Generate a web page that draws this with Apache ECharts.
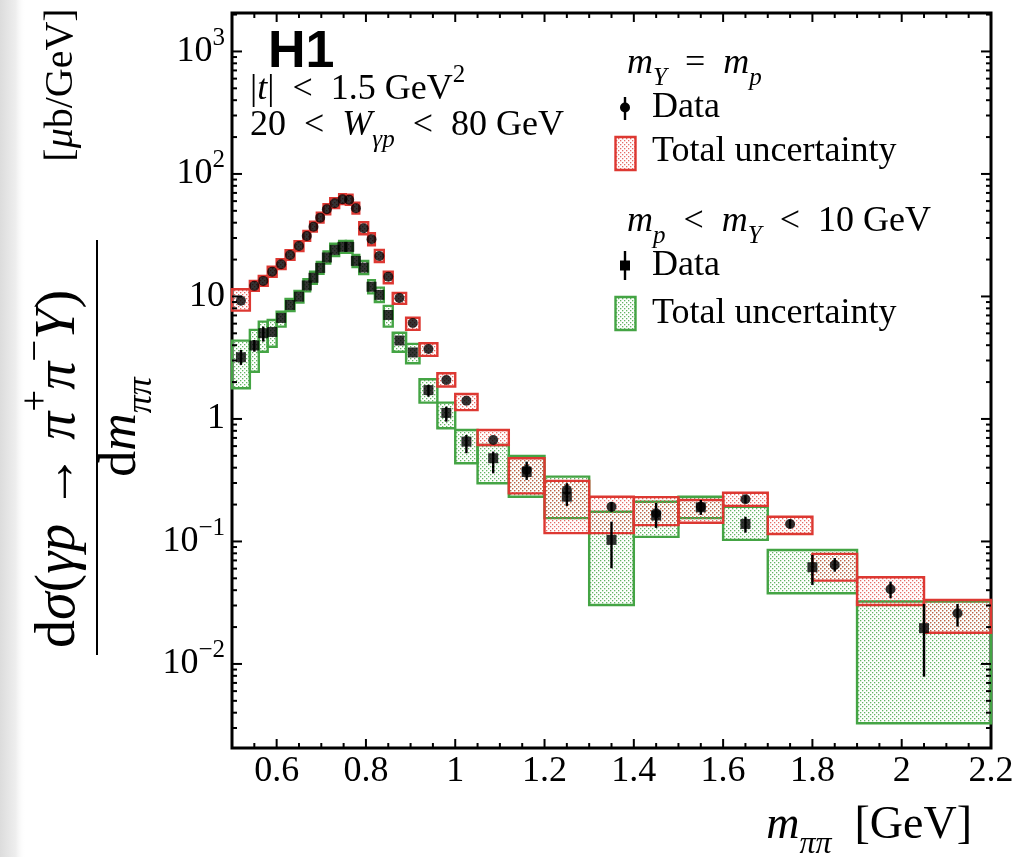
<!DOCTYPE html>
<html>
<head>
<meta charset="utf-8">
<script src="https://cdn.jsdelivr.net/npm/echarts@6/dist/echarts.min.js"></script>
<style>
  html, body { margin: 0; padding: 0; background: #fff; }
  #chart { width: 1019px; height: 857px; }
</style>
</head>
<body>
<div id="chart"></div>
<script>
// ---- m_pipi binning [GeV] ----
const sharedEdges = [0.50, 0.54, 0.56, 0.58, 0.60, 0.62, 0.64, 0.66, 0.675, 0.69, 0.705, 0.72, 0.74,
  0.755, 0.77, 0.785, 0.805, 0.82, 0.84, 0.86, 0.89, 0.92, 0.96, 1.00, 1.05, 1.12, 1.20, 1.30,
  1.40, 1.50, 1.60, 1.70];
const elasticTailEdges = [1.80, 1.90, 2.05, 2.20];
const pdissTailEdges = [1.90, 2.20];

// ---- m_Y = m_p : dsigma/dm [ub/GeV] ----
const elasticXsec = [9.24, 12.2, 13.4, 15.9, 18.3, 21.8, 25.8, 31.2, 37.1, 44.0, 51.5, 57.7, 62.2,
  61.5, 52.5, 36.0, 29.3, 21.4, 14.5, 9.72, 6.08, 3.73, 2.08, 1.41, 0.674, 0.383, 0.263, 0.192,
  0.170, 0.192, 0.221, 0.139, 0.0643, 0.0407, 0.0259];
const elasticTotLo = [7.66, 11.1, 12.2, 14.5, 16.7, 19.9, 23.5, 28.4, 33.8, 40.1, 46.9, 52.6, 56.7,
  56.0, 47.4, 32.2, 26.2, 19.1, 12.8, 8.69, 5.33, 3.27, 1.84, 1.18, 0.613, 0.247, 0.117, 0.117,
  0.136, 0.142, 0.195, 0.115, 0.0479, 0.0303, 0.0180];
const elasticTotHi = [11.45, 13.4, 14.7, 17.5, 20.1, 23.9, 28.3, 34.3, 40.8, 48.3, 56.6, 63.4, 68.3,
  67.6, 58.2, 40.3, 32.8, 24.0, 15.9, 10.7, 6.71, 4.15, 2.36, 1.60, 0.813, 0.478, 0.312, 0.232,
  0.230, 0.218, 0.250, 0.159, 0.0791, 0.0510, 0.0333];
// statistical errors (null: smaller than the marker)
const elasticStatLo = [null, null, null, null, null, null, null, null, null, null, null, null, null,
  null, null, null, null, null, null, null, null, null, null, null, null, null, 0.245, 0.175,
  0.157, 0.180, 0.205, 0.128, 0.0567, 0.0344, 0.0202];
const elasticStatHi = [null, null, null, null, null, null, null, null, null, null, null, null, null,
  null, null, null, null, null, null, null, null, null, null, null, null, null, 0.282, 0.210,
  0.184, 0.205, 0.238, 0.151, 0.0733, 0.0470, 0.0309];

// ---- m_p < m_Y < 10 GeV : dsigma/dm [ub/GeV] ----
const pdissXsec = [3.19, 3.98, 5.01, 5.13, 6.68, 8.52, 9.96, 12.3, 14.2, 17.1, 20.8, 24.0, 25.4,
  25.4, 19.5, 17.2, 12.0, 10.3, 7.06, 4.37, 3.49, 1.72, 1.12, 0.653, 0.478, 0.369, 0.232, 0.103,
  0.163, 0.190, 0.139, 0.0616, 0.0196];
const pdissTotLo = [1.78, 2.43, 3.54, 3.89, 5.67, 7.61, 8.90, 11.0, 12.7, 15.3, 18.6, 21.4, 22.7,
  22.7, 17.4, 15.2, 10.6, 9.0, 5.67, 3.54, 2.85, 1.36, 0.840, 0.435, 0.299, 0.232, 0.155, 0.0303,
  0.109, 0.155, 0.103, 0.0378, 0.00328];
const pdissTotHi = [4.36, 5.33, 6.23, 6.43, 7.51, 9.53, 11.1, 13.8, 15.9, 19.1, 23.3, 26.9, 28.4,
  28.4, 21.8, 19.5, 13.6, 11.8, 8.37, 5.06, 4.10, 2.11, 1.36, 0.813, 0.613, 0.499, 0.338, 0.175,
  0.211, 0.232, 0.192, 0.0852, 0.0323];
const pdissStatLo = [2.76, 3.54, 4.28, null, null, null, null, null, null, null, null, null, null,
  null, null, null, null, null, null, null, null, 1.52, 0.95, 0.525, 0.360, 0.318, 0.195, 0.0604,
  0.129, 0.165, 0.118, 0.0441, 0.00787];
const pdissStatHi = [3.66, 4.41, 5.67, null, null, null, null, null, null, null, null, null, null,
  null, null, null, null, null, null, null, null, 1.90, 1.26, 0.740, 0.541, 0.448, 0.299, 0.145,
  0.206, 0.218, 0.159, 0.0776, 0.0309];

// ---- axes ----
const xRange = [0.5, 2.2];
const yRange = [0.00206, 2060];
const xTickLabels = [0.6, 0.8, 1.0, 1.2, 1.4, 1.6, 1.8, 2.0, 2.2];
const yDecades = [-2, -1, 0, 1, 2, 3];

const SERIF = '"Liberation Serif", "DejaVu Serif", serif';
const SANS = '"Liberation Sans", Arial, sans-serif';
const RED = '#dd3832';
const GREEN = '#44a444';

function dotPattern(color) {
  const c = document.createElement('canvas');
  c.width = 4; c.height = 4;
  const g = c.getContext('2d');
  g.fillStyle = color;
  g.fillRect(0, 0, 1.3, 1.3);
  g.fillRect(2, 2, 1.3, 1.3);
  return { image: c, repeat: 'repeat' };
}
const redFill = dotPattern('rgba(222,70,64,0.8)');
const greenFill = dotPattern('rgba(60,160,60,0.8)');

function boxes(edges, lo, hi) {
  return lo.map((l, i) => [edges[i], edges[i + 1], l, hi[i]]);
}
function points(edges, vals) {
  return vals.map((v, i) => [(edges[i] + edges[i + 1]) / 2, v]);
}
function bars(edges, lo, hi) {
  const out = [];
  lo.forEach((l, i) => { if (l != null) out.push([(edges[i] + edges[i + 1]) / 2, l, hi[i]]); });
  return out;
}

const elasticEdges = sharedEdges.concat(elasticTailEdges);
const pdissEdges = sharedEdges.concat(pdissTailEdges);

// tick marks on all four sides of the frame (log minor ticks at 2..9 per decade)
const tickData = [];
for (let k = 11; k < 44; k++) {
  const v = k * 5 / 100;
  const major = xTickLabels.some(t => Math.abs(t - v) < 1e-9);
  tickData.push([v, 1, major ? 1 : 0]);
}
for (let d = -3; d <= 3; d++) {
  for (let m = 1; m <= 9; m++) {
    const v = m * Math.pow(10, d);
    if (v <= yRange[0] || v >= yRange[1]) continue;
    tickData.push([xRange[0], v, m === 1 ? 3 : 2]);
  }
}

function boxRenderer(stroke, fill) {
  return function (params, api) {
    const a = api.coord([api.value(0), api.value(3)]);
    const b = api.coord([api.value(1), api.value(2)]);
    return {
      type: 'rect',
      shape: { x: a[0], y: a[1], width: b[0] - a[0], height: b[1] - a[1] },
      style: { fill: fill, stroke: stroke, lineWidth: 2.4 }
    };
  };
}
function barRenderer(params, api) {
  const a = api.coord([api.value(0), api.value(1)]);
  const b = api.coord([api.value(0), api.value(2)]);
  return {
    type: 'line',
    shape: { x1: a[0], y1: a[1], x2: b[0], y2: b[1] },
    style: { stroke: '#000', lineWidth: 2.4 }
  };
}
function tickRenderer(params, api) {
  const cs = params.coordSys;
  const kind = api.value(2);
  const p = api.coord([api.value(0), api.value(1)]);
  const st = { stroke: '#000', lineWidth: 2 };
  if (kind < 2) {
    const len = kind === 1 ? 9 : 5;
    const yb = cs.y + cs.height, yt = cs.y;
    return { type: 'group', children: [
      { type: 'line', shape: { x1: p[0], y1: yb, x2: p[0], y2: yb - len }, style: st },
      { type: 'line', shape: { x1: p[0], y1: yt, x2: p[0], y2: yt + len }, style: st }
    ] };
  }
  const len = kind === 3 ? 10 : 5;
  const xl = cs.x, xr = cs.x + cs.width;
  return { type: 'group', children: [
    { type: 'line', shape: { x1: xl, y1: p[1], x2: xl + len, y2: p[1] }, style: st },
    { type: 'line', shape: { x1: xr, y1: p[1], x2: xr - len, y2: p[1] }, style: st }
  ] };
}

// rich-text styles for TeX-like math (graphic text uses fill)
function mathRich(size) {
  const lh = Math.round(size * 1.5);
  const small = Math.round(size * 0.7);
  const slh = Math.round(size * 0.95);
  return {
    r: { fontFamily: SERIF, fontSize: size, lineHeight: lh, fill: '#000' },
    i: { fontFamily: SERIF, fontSize: size, lineHeight: lh, fontStyle: 'italic', fill: '#000' },
    sub: { fontFamily: SERIF, fontSize: small, lineHeight: slh, fontStyle: 'italic', verticalAlign: 'bottom', fill: '#000' },
    sup: { fontFamily: SERIF, fontSize: small, lineHeight: slh, verticalAlign: 'top', fill: '#000' }
  };
}
function mtext(x, y, text, size, align, extra) {
  return Object.assign({
    type: 'text', x: x, y: y, silent: true,
    style: {
      text: text, rich: mathRich(size), fontFamily: SERIF, fontSize: size, fill: '#000',
      align: align || 'left', textAlign: align || 'left',
      verticalAlign: 'middle', textVerticalAlign: 'middle'
    }
  }, extra || {});
}

const LEG = 36;
const graphics = [
  // soft grey edge along the left side of the page
  { type: 'rect', silent: true, z: -10, shape: { x: 0, y: 0, width: 26, height: 857 },
    style: { fill: new echarts.graphic.LinearGradient(0, 0, 1, 0, [
      { offset: 0, color: '#dcdcdc' }, { offset: 0.6, color: '#eeeeee' }, { offset: 1, color: 'rgba(255,255,255,0)' }]) } },

  // experiment tag and selection
  { type: 'text', x: 268, y: 53, silent: true,
    style: { text: 'H1', fontFamily: SANS, fontWeight: 'bold', fontSize: 52, fill: '#000',
      align: 'left', textAlign: 'left', verticalAlign: 'middle', textVerticalAlign: 'middle' } },
  mtext(250, 90, '{r||}{i|t}{r||  <  1.5 GeV}{sup|2}', LEG),
  mtext(250, 126, '{r|20  <  }{i|W}{sub|γp}{r|  <  80 GeV}', LEG),

  // legend: m_Y = m_p
  mtext(627, 64, '{i|m}{sub|Y}{r|  =  }{i|m}{sub|p}', LEG),
  { type: 'line', silent: true, shape: { x1: 625, y1: 97, x2: 625, y2: 120 }, style: { stroke: '#000', lineWidth: 2.4 } },
  { type: 'circle', silent: true, shape: { cx: 625, cy: 107.5, r: 5 }, style: { fill: '#000' } },
  mtext(652, 108, '{r|Data}', LEG),
  { type: 'rect', silent: true, shape: { x: 615.5, y: 137, width: 20, height: 33 }, style: { fill: redFill, stroke: RED, lineWidth: 2.4 } },
  mtext(652, 152, '{r|Total uncertainty}', LEG),

  // legend: m_p < m_Y < 10 GeV
  mtext(627, 222, '{i|m}{sub|p}{r|  <  }{i|m}{sub|Y}{r|  <  10 GeV}', LEG),
  { type: 'line', silent: true, shape: { x1: 625, y1: 251, x2: 625, y2: 280 }, style: { stroke: '#000', lineWidth: 2.4 } },
  { type: 'rect', silent: true, shape: { x: 620, y: 260.5, width: 10, height: 10 }, style: { fill: '#000' } },
  mtext(652, 266, '{r|Data}', LEG),
  { type: 'rect', silent: true, shape: { x: 615.5, y: 297, width: 20, height: 33 }, style: { fill: greenFill, stroke: GREEN, lineWidth: 2.4 } },
  mtext(652, 314, '{r|Total uncertainty}', LEG),

  // x-axis title
  mtext(972, 826, '{i|m}{sub|ππ}{r|  [GeV]}', 46, 'right'),

  // y-axis title: rotated fraction
  { type: 'group', x: 97, y: 447, rotation: Math.PI / 2, silent: true, children: [
    { type: 'line', shape: { x1: -208, y1: 0, x2: 207, y2: 0 }, style: { stroke: '#000', lineWidth: 2 } },
    mtext(-22, -38, '{r|d}{i|σ}{r|(}{i|γp}{r| → }{i|π}{sup|+}{i|π}{sup|−}{i|Y}{r|)}', 56, 'center'),
    mtext(20, 24, '{r|d}{i|m}{sub|ππ}', 52, 'center'),
    mtext(362, -36, '{r|[}{i|μ}{r|b/GeV]}', 40, 'center')
  ] }
];

const option = {
  backgroundColor: '#fff',
  animation: false,
  grid: { left: 232, right: 28, top: 13, bottom: 109, show: true, borderColor: '#000', borderWidth: 3, backgroundColor: 'transparent' },
  xAxis: {
    type: 'value', min: xRange[0], max: xRange[1], interval: 0.1,
    axisLine: { show: false }, axisTick: { show: false }, splitLine: { show: false },
    axisLabel: {
      margin: 6, color: '#000', fontFamily: SERIF, fontSize: 36,
      formatter: function (v) {
        const hit = xTickLabels.some(t => Math.abs(t - v) < 1e-6);
        return hit ? String(Math.round(v * 10) / 10) : '';
      }
    }
  },
  yAxis: {
    type: 'log', logBase: 10, min: yRange[0], max: yRange[1],
    axisLine: { show: false }, axisTick: { show: false }, splitLine: { show: false },
    axisLabel: {
      margin: 7, color: '#000',
      formatter: function (v) {
        const l = Math.log10(v);
        const k = Math.round(l);
        if (Math.abs(l - k) > 1e-6 || yDecades.indexOf(k) < 0) return '';
        if (k === 0) return '{b|1}';
        if (k === 1) return '{b|10}';
        return '{b|10}{sup|' + (k < 0 ? '−' + (-k) : k) + '}';
      },
      rich: {
        b: { fontFamily: SERIF, fontSize: 36, lineHeight: 52, color: '#000' },
        sup: { fontFamily: SERIF, fontSize: 25, lineHeight: 26, verticalAlign: 'top', color: '#000' }
      }
    }
  },
  series: [
    { type: 'custom', name: 'pdiss total', renderItem: boxRenderer(GREEN, greenFill),
      data: boxes(pdissEdges, pdissTotLo, pdissTotHi), encode: { x: [0, 1], y: [2, 3] }, silent: true, z: 2 },
    { type: 'custom', name: 'elastic total', renderItem: boxRenderer(RED, redFill),
      data: boxes(elasticEdges, elasticTotLo, elasticTotHi), encode: { x: [0, 1], y: [2, 3] }, silent: true, z: 3 },
    { type: 'custom', name: 'pdiss stat', renderItem: barRenderer,
      data: bars(pdissEdges, pdissStatLo, pdissStatHi), encode: { x: 0, y: [1, 2] }, silent: true, z: 4 },
    { type: 'custom', name: 'elastic stat', renderItem: barRenderer,
      data: bars(elasticEdges, elasticStatLo, elasticStatHi), encode: { x: 0, y: [1, 2] }, silent: true, z: 4 },
    { type: 'scatter', name: 'pdiss data', data: points(pdissEdges, pdissXsec),
      symbol: 'rect', symbolSize: 10, itemStyle: { color: '#000' }, silent: true, z: 5 },
    { type: 'scatter', name: 'elastic data', data: points(elasticEdges, elasticXsec),
      symbol: 'circle', symbolSize: 10, itemStyle: { color: '#000' }, silent: true, z: 5 },
    { type: 'custom', name: 'frame ticks', renderItem: tickRenderer, data: tickData,
      encode: { x: 0, y: 1 }, silent: true, z: 6 }
  ],
  graphic: graphics
};

const chart = echarts.init(document.getElementById('chart'));
chart.setOption(option);
</script>
</body>
</html>
